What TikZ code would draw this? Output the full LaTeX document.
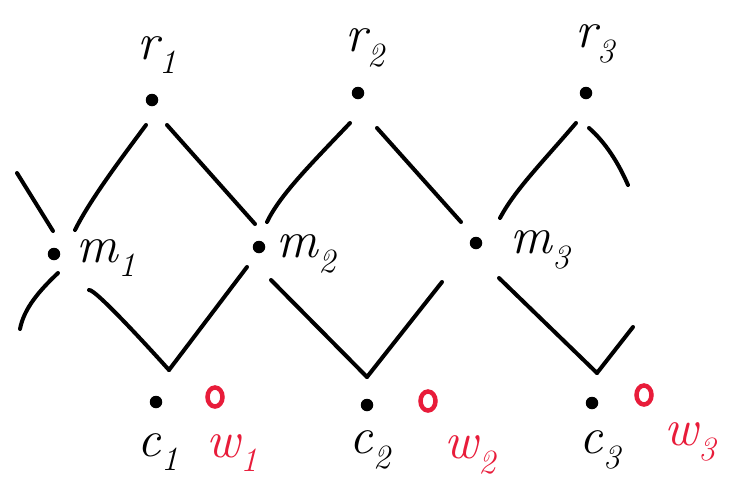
\documentclass[tikz,border=0pt]{standalone}
\usepackage{fontspec}
\usetikzlibrary{shapes.geometric}
\definecolor{wred}{RGB}{232,28,58}
\newcommand\mylbl[2]{#1\raisebox{-0.28em}{\fontsize{34}{36}\selectfont #2}}
\begin{document}
\begin{tikzpicture}[x=1pt,y=-1pt,
  seg/.style={line width=4pt,line cap=round},
  bdot/.style={circle,fill=black,inner sep=0pt,minimum size=12.5pt},
  rdot/.style={ellipse,draw=wred,line width=4.5pt,inner sep=0pt,minimum width=15pt,minimum height=19pt},
  lab/.style={font=\fontsize{52}{56}\selectfont\itshape,inner sep=0pt},
  rlab/.style={lab,text=wred}]
\useasboundingbox (0,0) rectangle (740,491);
% points
\node[bdot] (r1) at (152,100) {};
\node[bdot] (r2) at (358,93) {};
\node[bdot] (r3) at (586,93) {};
\node[bdot] (m1) at (54,254) {};
\node[bdot] (m2) at (259,247) {};
\node[bdot] (m3) at (476,243) {};
\node[bdot] (c1) at (156,402) {};
\node[bdot] (c2) at (367,405) {};
\node[bdot] (c3) at (592,403) {};
\node[rdot] (w1) at (215,397) {};
\node[rdot] (w2) at (428,401) {};
\node[rdot] (w3) at (644,395) {};
% labels
\node[lab] (lr1) at (157,55) {\mylbl{r}{1}};
\node[lab] (lr2) at (365,48) {\mylbl{r}{2}};
\node[lab] (lr3) at (595,44) {\mylbl{r}{3}};
\node[lab] (lm1) at (106,258) {\mylbl{m}{1}};
\node[lab] (lm2) at (306,254) {\mylbl{m}{2}};
\node[lab] (lm3) at (540,250) {\mylbl{m}{3}};
\node[lab] (lc1) at (158,452) {\mylbl{c}{1}};
\node[lab] (lc2) at (370,450) {\mylbl{c}{2}};
\node[lab] (lc3) at (600,450) {\mylbl{c}{3}};
\node[rlab] (lw1) at (232,453) {\mylbl{w}{1}};
\node[rlab] (lw2) at (470,455) {\mylbl{w}{2}};
\node[rlab] (lw3) at (690,442) {\mylbl{w}{3}};
% segment endpoints
\coordinate (a1) at (146,125); \coordinate (a2) at (75,230);
\coordinate (b1) at (167,125); \coordinate (b2) at (255,224);
\coordinate (e1) at (17,173);  \coordinate (e2) at (53,231);
\coordinate (f1) at (350,123); \coordinate (f2) at (267,222);
\coordinate (g1) at (377,128); \coordinate (g2) at (461,222);
\coordinate (h1) at (576,123); \coordinate (h2) at (500,218);
\coordinate (i1) at (589,128); \coordinate (i2) at (628,185);
\coordinate (j1) at (58,273);  \coordinate (j2) at (20,329);
\coordinate (k1) at (89,290);  \coordinate (k2) at (169,370);
\coordinate (l2) at (247,267);
\coordinate (n1) at (271,280); \coordinate (n2) at (367,377);
\coordinate (o2) at (442,282);
\coordinate (p1) at (499,278); \coordinate (p2) at (597,373);
\coordinate (q2) at (633,327);
% segments
\draw[seg] (a1) .. controls (120,160) and (90,200) .. (a2);
\draw[seg] (b1) -- (b2);
\draw[seg] (e1) -- (e2);
\draw[seg] (f1) .. controls (310,165) and (280,195) .. (f2);
\draw[seg] (g1) -- (g2);
\draw[seg] (h1) .. controls (540,165) and (515,190) .. (h2);
\draw[seg] (i1) .. controls (605,142) and (618,162) .. (i2);
\draw[seg] (j1) .. controls (40,290) and (24,308) .. (j2);
\draw[seg] (k1) .. controls (95,288) and (160,360) .. (k2);
\draw[seg] (k2) -- (l2);
\draw[seg] (n1) -- (n2);
\draw[seg] (n2) -- (o2);
\draw[seg] (p1) -- (p2);
\draw[seg] (p2) -- (q2);
\end{tikzpicture}
\end{document}
